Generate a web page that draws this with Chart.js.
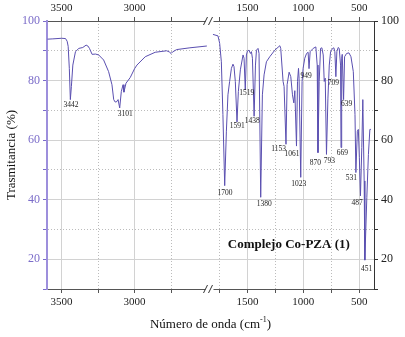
<!DOCTYPE html>
<html>
<head>
<meta charset="utf-8">
<script src="https://cdn.jsdelivr.net/npm/chart.js@4"></script>
<style>
  html, body { margin: 0; padding: 0; background: #fff; }
</style>
</head>
<body>
<canvas id="ir-chart" width="405" height="337"></canvas>
<script>
// spectrum, high wavenumber side (left panel)
const leftWn = [3597, 3560, 3500, 3473, 3462, 3455, 3447, 3440, 3433, 3423, 3405, 3382, 3355, 3332, 3320, 3309,
  3291, 3268, 3246, 3212, 3178, 3155, 3143, 3133, 3125, 3113, 3102, 3091, 3079, 3073, 3059, 3030, 3000, 2984,
  2927, 2859, 2780, 2762, 2750, 2740, 2712, 2621, 2505];
const leftT = [93.9, 94.0, 94.2, 94.1, 93.2, 91.5, 84, 73.6, 78, 85.2, 89.7, 90.8, 91.1, 91.9, 91.6, 90.8,
  88.8, 88.9, 88.6, 86.9, 83, 78.6, 73.6, 72.8, 72.8, 73.6, 70.8, 76.3, 78.6, 76.1, 79.1, 81, 84, 85.2,
  88, 89.5, 90, 89.6, 89.1, 89.6, 90.4, 91, 91.6];

// spectrum, fingerprint side (right panel)
const rightWn = [1808, 1763, 1748, 1733, 1719, 1703, 1688, 1674, 1659, 1643, 1629, 1620, 1608, 1593, 1581, 1563,
  1539, 1530, 1519, 1509, 1500, 1486, 1473, 1464, 1455, 1440, 1428, 1419, 1405, 1396, 1381, 1366, 1351, 1330,
  1300, 1255, 1210, 1202, 1181, 1172, 1155, 1145, 1127, 1112, 1097, 1085, 1076, 1061, 1052, 1043, 1038, 1023,
  1011, 1002, 987, 971, 957, 949, 939, 912, 888, 876, 869, 858, 846, 834, 822, 813, 804, 793, 780, 768, 756,
  738, 727, 718, 709, 700, 688, 679, 667, 663, 657, 652, 640, 631, 613, 592, 574, 553, 538, 530, 517, 508,
  499, 489, 477, 468, 456, 450, 432, 418, 405, 396];
const rightT = [95.5, 95.0, 92.5, 86.3, 68.6, 44.7, 63, 75.2, 79.7, 84.1, 85.5, 84.7, 79.7, 66.1, 76.3, 83.6,
  88.6, 87.5, 76.9, 88.6, 89.9, 90.2, 89.1, 89.7, 87.5, 68, 85.2, 90.2, 90.8, 89.1, 40.8, 75.2, 81.9, 86.3,
  88, 90.2, 91.7, 90.8, 79.7, 78, 58.6, 78.6, 82.8, 81.3, 75.2, 72.5, 76.6, 58, 79.7, 84.1, 80.8, 47.5,
  79.7, 84.1, 87.5, 89.1, 89.5, 84, 89.7, 90.8, 91.3, 85.2, 55.8, 79.7, 90.8, 91, 88.6, 79.7, 80.8, 55.2, 74.1, 85.2, 89.7,
  90.8, 91, 89.7, 81.3, 89.7, 91.1, 90.8, 85.2, 57.5, 87.5, 88.8, 73.6, 88, 89.1, 89.3, 88, 83, 68.6, 49.1, 63, 63.6,
  54.1, 41.3, 57.5, 73.6, 46.3, 19.7, 40.8, 55.2, 63.6, 63.6];

// peak annotations (wavenumber printed, depth of the band)
const peakWn = [3442, 3101, 1700, 1591, 1519, 1438, 1380, 1153, 1061, 1023, 949, 870, 793, 709, 669, 639, 531, 487, 451];
const peakT = [73.6, 70.8, 44.7, 66.1, 76.9, 68, 40.8, 58.6, 58, 47.5, 84, 55.8, 55.2, 81.3, 57.5, 73.6, 49.1, 41.3, 19.7];

const leftTicks = [3500, 3250, 3000, 2750];
const rightTicks = [1750, 1500, 1250, 1000, 750, 500];

const serif = "'Liberation Serif', 'Times New Roman', serif";
const lineColor = '#5a4fb0';
const purple = '#7b6cc9';

// label nudges so they sit like the original
const nudge = {
  3442: [1, -1], 3101: [5.5, 0], 1700: [0, 1], 1591: [0, -2], 1519: [1.5, -2.5], 1438: [-2, -1], 1380: [3.5, 1],
  1153: [-7.5, -1], 1061: [-4.5, 1.5], 1023: [-2, 1], 949: [-3, 1.5], 870: [-2.5, 4], 793: [3, 1], 709: [-2.5, 0],
  669: [2, -1], 639: [3, -2], 531: [-4.5, -1], 487: [-3.5, 1.5], 451: [2, 3]
};

function minorDash(ctx) {
  return ctx.tick && ctx.tick.value % 500 !== 0 ? [1, 2] : [];
}
function xGridColor(ctx) {
  return ctx.tick && ctx.tick.value % 500 !== 0 ? '#bcbcbc' : '#d2d2d2';
}

function xAxis(pos, lo, hi, ticks, onArea) {
  return {
    type: 'linear',
    position: pos,
    stack: pos,
    stackWeight: 1,
    reverse: true,
    min: lo,
    max: hi,
    afterBuildTicks: s => { s.ticks = ticks.map(v => ({ value: v })); },
    afterFit: s => { s.height = pos === 'top' ? 21 : 48; },
    ticks: {
      autoSkip: false,
      maxRotation: 0,
      padding: pos === 'top' ? 2 : 3,
      color: '#222',
      font: { family: serif, size: 11 },
      callback: v => (v % 500 === 0 ? v : '')
    },
    grid: {
      drawOnChartArea: onArea,
      color: xGridColor,
      tickColor: '#555',
      tickLength: 4
    },
    border: { color: '#555', width: 1, dash: minorDash }
  };
}

const decor = {
  id: 'decor',
  afterDraw(chart) {
    const { ctx, chartArea: a, scales } = chart;
    const y = scales.y;
    ctx.save();

    // axis titles
    ctx.fillStyle = '#111';
    ctx.textAlign = 'center';
    ctx.textBaseline = 'middle';
    ctx.font = `13px ${serif}`;
    ctx.save();
    ctx.translate(12, (a.top + a.bottom) / 2);
    ctx.rotate(-Math.PI / 2);
    ctx.fillText('Trasmitancia (%)', 0, 0);
    ctx.restore();

    const main = 'Número de onda (cm';
    const wMain = ctx.measureText(main).width;
    ctx.font = `8px ${serif}`;
    const wSup = ctx.measureText('-1').width;
    ctx.font = `13px ${serif}`;
    const wEnd = ctx.measureText(')').width;
    let tx = (a.left + a.right) / 2 - (wMain + wSup + wEnd) / 2;
    const ty = 325;
    ctx.textAlign = 'left';
    ctx.fillText(main, tx, ty);
    tx += wMain;
    ctx.font = `8px ${serif}`;
    ctx.fillText('-1', tx, ty - 5);
    tx += wSup;
    ctx.font = `13px ${serif}`;
    ctx.fillText(')', tx, ty);

    // peak labels
    ctx.font = `7.5px ${serif}`;
    ctx.textAlign = 'center';
    ctx.fillStyle = '#222';
    peakWn.forEach((w, i) => {
      const sc = w > 2000 ? scales.x1 : scales.x2;
      const n = nudge[w] || [0, 0];
      ctx.fillText(String(w), sc.getPixelForValue(w) + n[0], y.getPixelForValue(peakT[i]) + 6 + n[1]);
    });

    // caption
    ctx.font = `bold 13px ${serif}`;
    ctx.fillStyle = '#111';
    ctx.fillText('Complejo Co-PZA (1)', scales.x2.getPixelForValue(1130), y.getPixelForValue(25));

    // axis break marks
    const bx = scales.x1.right;
    ctx.fillStyle = '#fff';
    ctx.fillRect(bx - 5, a.top - 2, 8, 4);
    ctx.fillRect(bx - 5, a.bottom - 2, 8, 4);
    ctx.strokeStyle = '#333';
    ctx.lineWidth = 1;
    [a.top, a.bottom].forEach(yy => {
      [-5, 0].forEach(off => {
        ctx.beginPath();
        ctx.moveTo(bx + off - 2, yy + 4);
        ctx.lineTo(bx + off + 2, yy - 4);
        ctx.stroke();
      });
    });
    ctx.restore();
  }
};

new Chart(document.getElementById('ir-chart').getContext('2d'), {
  type: 'line',
  data: {
    datasets: [
      {
        data: leftWn.map((w, i) => ({ x: w, y: leftT[i] })),
        xAxisID: 'x1',
        yAxisID: 'y',
        borderColor: lineColor,
        borderWidth: 1,
        pointRadius: 0,
        tension: 0
      },
      {
        data: rightWn.map((w, i) => ({ x: w, y: rightT[i] })),
        xAxisID: 'x2',
        yAxisID: 'y',
        borderColor: lineColor,
        borderWidth: 1,
        pointRadius: 0,
        tension: 0
      }
    ]
  },
  options: {
    responsive: false,
    animation: false,
    layout: { padding: 0 },
    plugins: { legend: { display: false }, tooltip: { enabled: false } },
    scales: {
      x1: xAxis('bottom', 2480, 3600, leftTicks, true),
      x2: xAxis('bottom', 368, 1830, rightTicks, true),
      // top boxes get placed in reverse order, so the right one goes first
      xt2: xAxis('top', 368, 1830, rightTicks, false),
      xt1: xAxis('top', 2480, 3600, leftTicks, false),
      y: {
        position: 'left',
        min: 10,
        max: 100,
        afterFit: s => { s.width = 47; },
        ticks: {
          stepSize: 10,
          padding: 3,
          color: purple,
          font: { family: serif, size: 12 },
          callback: v => (v % 20 === 0 ? v : '')
        },
        grid: {
          color: c => (c.tick && c.tick.value % 20 !== 0 ? '#bcbcbc' : '#d2d2d2'),
          tickColor: purple,
          tickLength: 4
        },
        border: {
          color: '#9d8fdc',
          width: 2,
          dash: c => (c.tick && c.tick.value % 20 !== 0 ? [1, 2] : [])
        }
      },
      y2: {
        position: 'right',
        min: 10,
        max: 100,
        afterFit: s => { s.width = 31; },
        ticks: {
          stepSize: 10,
          padding: 3,
          color: '#222',
          font: { family: serif, size: 12 },
          callback: v => (v % 20 === 0 ? v : '')
        },
        grid: { drawOnChartArea: false, tickColor: '#333', tickLength: 4 },
        border: { color: '#333', width: 1 }
      }
    }
  },
  plugins: [decor]
});
</script>
</body>
</html>
